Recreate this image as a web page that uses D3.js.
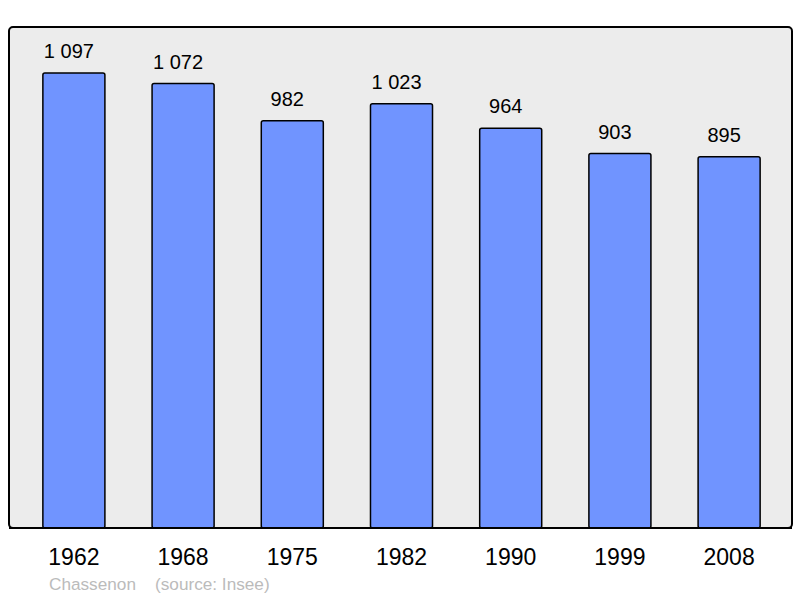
<!DOCTYPE html>
<html>
<head>
<meta charset="utf-8">
<script src="https://cdn.jsdelivr.net/npm/d3@7"></script>
<style>
  body { margin: 0; background: #fff; }
  svg { display: block; font-family: "Liberation Sans", Arial, sans-serif; }
</style>
</head>
<body>
<svg width="800" height="598"></svg>
<script>
var years = ["1962", "1968", "1975", "1982", "1990", "1999", "2008"];
var population = [1097, 1072, 982, 1023, 964, 903, 895];
var labels = ["1 097", "1 072", "982", "1 023", "964", "903", "895"];

const svg = d3.select("svg");
const frame = {left: 9, top: 27, right: 792, bottom: 528};

const x = d3.scaleBand()
    .domain(years)
    .range([10, 793])
    .paddingInner(0.432)
    .paddingOuter(0.301);

const y = d3.scaleLinear()
    .domain([0, 1208])
    .range([frame.bottom, frame.top]);

svg.append("rect")
    .attr("x", frame.left)
    .attr("y", frame.top)
    .attr("width", frame.right - frame.left)
    .attr("height", frame.bottom - frame.top)
    .attr("rx", 4)
    .attr("fill", "#ececec")
    .attr("stroke", "#000")
    .attr("stroke-width", 2);

svg.selectAll("rect.bar")
    .data(population)
    .enter()
    .append("rect")
    .attr("class", "bar")
    .attr("x", (d, i) => x(years[i]))
    .attr("y", d => y(d))
    .attr("width", x.bandwidth())
    .attr("height", d => frame.bottom - y(d))
    .attr("rx", 2)
    .attr("fill", "#7094ff")
    .attr("stroke", "#000")
    .attr("stroke-width", 1.5);

// redraw bottom border on top of bars
svg.append("line")
    .attr("x1", frame.left).attr("x2", frame.right)
    .attr("y1", frame.bottom).attr("y2", frame.bottom)
    .attr("stroke", "#000").attr("stroke-width", 2);

svg.selectAll("text.value")
    .data(population)
    .enter()
    .append("text")
    .attr("class", "value")
    .text((d, i) => labels[i])
    .attr("x", (d, i) => x(years[i]) + x.bandwidth() / 2 - 5)
    .attr("y", d => y(d) - 14.8)
    .attr("text-anchor", "middle")
    .attr("font-size", 20)
    .attr("fill", "#000");

svg.selectAll("text.year")
    .data(years)
    .enter()
    .append("text")
    .attr("class", "year")
    .text(d => d)
    .attr("x", d => x(d) + x.bandwidth() / 2)
    .attr("y", 565)
    .attr("text-anchor", "middle")
    .attr("font-size", 23)
    .attr("fill", "#000");

svg.append("text")
    .text("Chassenon")
    .attr("x", 49).attr("y", 590)
    .attr("font-size", 17.2)
    .attr("fill", "#bbbbbb");

svg.append("text")
    .text("(source: Insee)")
    .attr("x", 155).attr("y", 590)
    .attr("font-size", 17.2)
    .attr("fill", "#bbbbbb");
</script>
</body>
</html>
